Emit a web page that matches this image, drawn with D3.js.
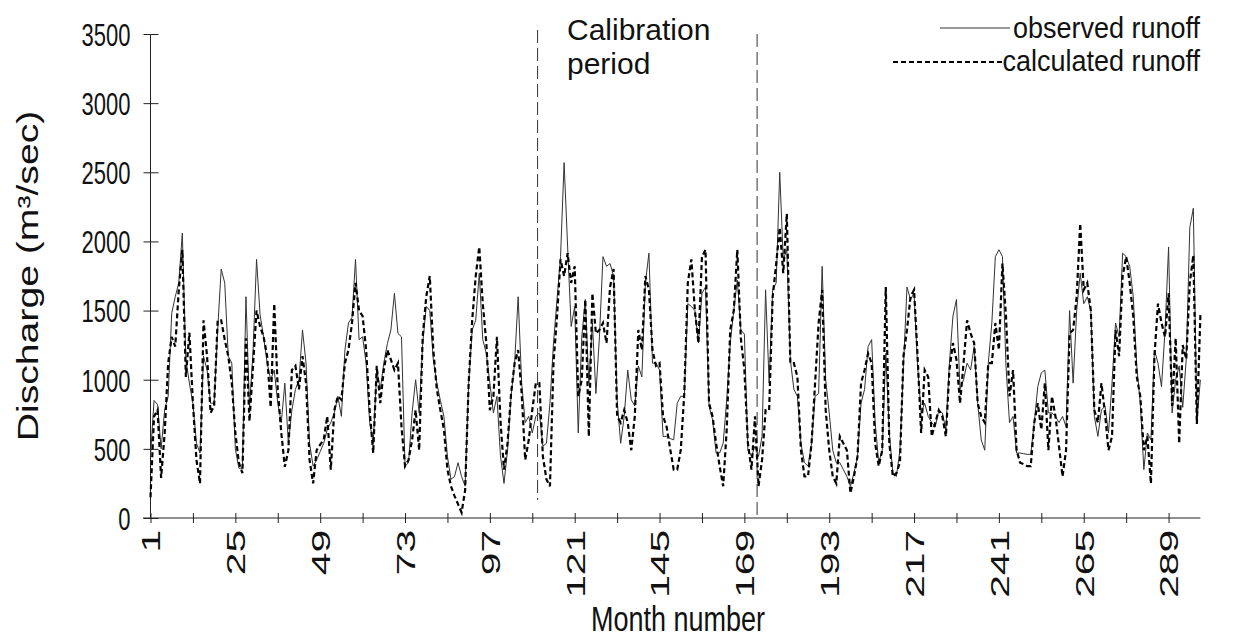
<!DOCTYPE html>
<html><head><meta charset="utf-8">
<script src="https://cdn.jsdelivr.net/npm/d3@7/dist/d3.min.js"></script>
<style>
body{margin:0;background:#fff}
svg{display:block}
text{font-family:"Liberation Sans",Arial,Helvetica,sans-serif;fill:#111}
</style>
</head><body>
<svg id="chart" width="1235" height="639"></svg>
<script>
const months = d3.range(1, 299);
const observed = [
450,850,820,500,780,880,1480,1600,1700,2060,1145,975,830,540,470,1170,1070,830,830,1360,1800,1700,1170,1120,500,360,360,1600,800,1200,1870,
1470,1310,1120,1000,1070,830,690,975,540,780,930,1000,1360,1120,540,375,420,480,540,640,690,760,880,735,1215,1410,1450,1870,1290,1310,1120,690,540,1070,930,1120,
1260,1360,1625,1335,1310,375,400,760,1000,760,1260,1530,1500,1145,975,850,735,445,280,300,400,300,230,975,1360,1430,1770,1290,1190,975,760,880,450,250,
490,880,1120,1600,975,690,735,615,735,760,520,540,830,1265,1580,1890,2570,1960,1385,1530,615,1310,1580,975,1410,900,1310,1890,1820,1840,1750,855,540,
735,1070,855,810,1100,1020,1700,1915,1120,1120,1070,590,590,575,565,830,880,880,1550,1530,1500,1265,1625,1670,810,710,470,470,540,855,1265,1500,1720,1360,1330,
490,445,520,445,590,1650,975,1650,1700,2500,1870,1940,1145,930,880,540,400,375,540,880,900,1820,1000,760,490,400,400,350,300,230,325,445,830,930,
1240,1290,690,400,490,1190,615,325,300,490,1100,1670,1580,1625,1100,760,830,735,690,660,780,760,640,1120,1460,1580,930,1000,1120,1070,1240,830,565,
490,1120,1410,1890,1940,1890,1100,690,735,470,470,465,460,460,690,950,1050,1070,760,760,735,690,735,660,1500,975,1500,1770,1550,1600,1500,735,590,780,
810,615,975,1410,1310,1915,1890,1820,1600,1100,830,350,615,565,1215,1120,950,1360,1960,
760,1000,1100,800,1150,2100,2240,700,1000
];
const calculated = [
150,735,780,290,610,1120,1310,1240,1650,1940,1020,1340,830,420,250,1430,1170,760,810,1430,1430,1290,1170,975,615,400,325,1300,700,1100,1500,
1385,1310,1170,800,1550,930,615,370,490,1070,1100,930,1170,975,420,250,490,530,565,735,350,780,880,855,1120,1215,1410,1700,1500,1460,1215,780,470,1100,830,1070,
1215,1145,1070,1120,660,375,420,565,780,490,1310,1600,1750,1215,930,780,640,350,230,160,100,40,200,975,1430,1750,1960,1550,1265,780,880,1310,700,350,
540,900,1120,1215,900,420,565,780,975,975,445,280,230,1120,1460,1870,1750,1915,1700,1820,880,1000,1580,590,1625,1335,1360,1410,1265,1670,1800,735,690,
780,690,490,735,1360,1215,1750,1650,1215,1100,1120,735,660,500,350,350,490,900,1700,1870,1500,1265,1890,1940,830,735,540,375,230,640,1360,1500,1940,1300,1070,
540,350,735,230,420,780,780,1600,1840,2100,1770,2200,1120,1120,1020,490,300,300,540,975,1410,1650,780,490,300,250,590,540,490,180,300,445,975,1070,
1190,1120,540,375,490,1670,540,300,325,400,1170,1360,1600,1650,1170,615,1070,1020,590,690,780,735,590,1070,1265,1145,830,1120,1430,1335,1265,830,735,
690,1120,1120,1410,1215,1840,1460,880,1070,490,400,390,375,375,690,830,640,975,490,880,735,520,300,490,1335,1360,1600,2130,1650,1700,1500,780,690,975,
760,490,590,1360,1170,1750,1890,1700,1460,1020,880,490,590,250,1170,1550,1410,1310,1625,
810,1300,540,1250,1150,1700,1900,680,1470
];
const xTicks = d3.range(1, 299, 12);
const xLabels = d3.range(1, 290, 24);
const yTicks = [0,500,1000,1500,2000,2500,3000,3500];
const calibrationBounds = [110.5, 172.6];
const seriesNames = ["observed runoff", "calculated runoff"];
const calibrationText = ["Calibration", "period"];

const svg = d3.select("#chart");
const x = d3.scaleLinear().domain([1, 298]).range([150.5, 1200.4]);
const y = d3.scaleLinear().domain([0, 3500]).range([518, 34]);
const FONT = '"Liberation Sans",Arial,sans-serif';

// y axis
const gy = svg.append("g").attr("transform",`translate(${x(1)},0)`)
  .call(d3.axisLeft(y).tickValues(yTicks).tickSize(7).tickFormat(d3.format("d")));
gy.select(".domain").attr("d", `M0,${y(3500)}V${y(0)}`).attr("stroke","#222");
gy.selectAll(".tick line").attr("x1",-7).attr("x2",8).attr("stroke","#222");
gy.selectAll(".tick text")
  .attr("x",-20).attr("y",0).attr("dy","0.358em")
  .attr("transform","scale(1,1.45)")
  .attr("font-size",22).attr("fill","#111").style("font-family",FONT);

// x axis
const gx = svg.append("g").attr("transform",`translate(0,${y(0)})`)
  .call(d3.axisBottom(x).tickValues(xTicks).tickSize(5)
    .tickFormat(d => xLabels.includes(d) ? d : ""));
gx.select(".domain").attr("d", `M143,0H${x(298)}`).attr("stroke","#222");
gx.selectAll(".tick line").attr("y1",-5).attr("y2",5).attr("stroke","#222");
gx.selectAll(".tick text")
  .attr("transform","scale(1,1.57) rotate(-90)")
  .attr("x",-7.5).attr("y",0).attr("dy","0.358em")
  .style("text-anchor","end").attr("font-size",26).attr("fill","#111")
  .style("font-family",FONT);

// calibration lines
svg.selectAll("line.cal").data(calibrationBounds).enter().append("line")
  .attr("class","cal")
  .attr("x1", d=>x(d)).attr("x2", d=>x(d))
  .attr("y1", (d,i)=> i===0 ? 30 : 34).attr("y2", (d,i)=> i===0 ? 500 : 516)
  .attr("stroke","#333").attr("stroke-width",1).attr("stroke-dasharray","13,5");

// series
const line = d3.line().x((d,i)=>x(months[i])).y(d=>y(d));
svg.append("path").datum(observed).attr("d", line)
  .attr("fill","none").attr("stroke","#333").attr("stroke-width",1);
svg.append("path").datum(calculated).attr("d", line)
  .attr("fill","none").attr("stroke","#000").attr("stroke-width",2.2).attr("stroke-dasharray","5,3");

// calibration label
svg.selectAll("text.cal").data(calibrationText).enter().append("text")
  .attr("class","cal").attr("x",567).attr("y",(d,i)=>40+i*34)
  .attr("font-size",30).text(d=>d);

// legend
svg.append("line").attr("x1",940).attr("x2",1010).attr("y1",28).attr("y2",28).attr("stroke","#333").attr("stroke-width",1);
svg.append("line").attr("x1",893).attr("x2",1003).attr("y1",62).attr("y2",62).attr("stroke","#000").attr("stroke-width",2).attr("stroke-dasharray","5,3");
svg.append("text").attr("transform","translate(1200,38) scale(1,1.1)").attr("font-size",27).attr("text-anchor","end").text(seriesNames[0]);
svg.append("text").attr("transform","translate(1200,71) scale(1,1.1)").attr("font-size",27).attr("text-anchor","end").text(seriesNames[1]);

// axis titles
svg.append("text").attr("transform","translate(678,631) scale(1,1.3)").attr("font-size",27).attr("text-anchor","middle").text("Month number");
svg.append("text").attr("transform","translate(38,276) scale(1,1.35) rotate(-90)").attr("font-size",29).attr("text-anchor","middle").text("Discharge (m³/sec)");
</script>
</body></html>
